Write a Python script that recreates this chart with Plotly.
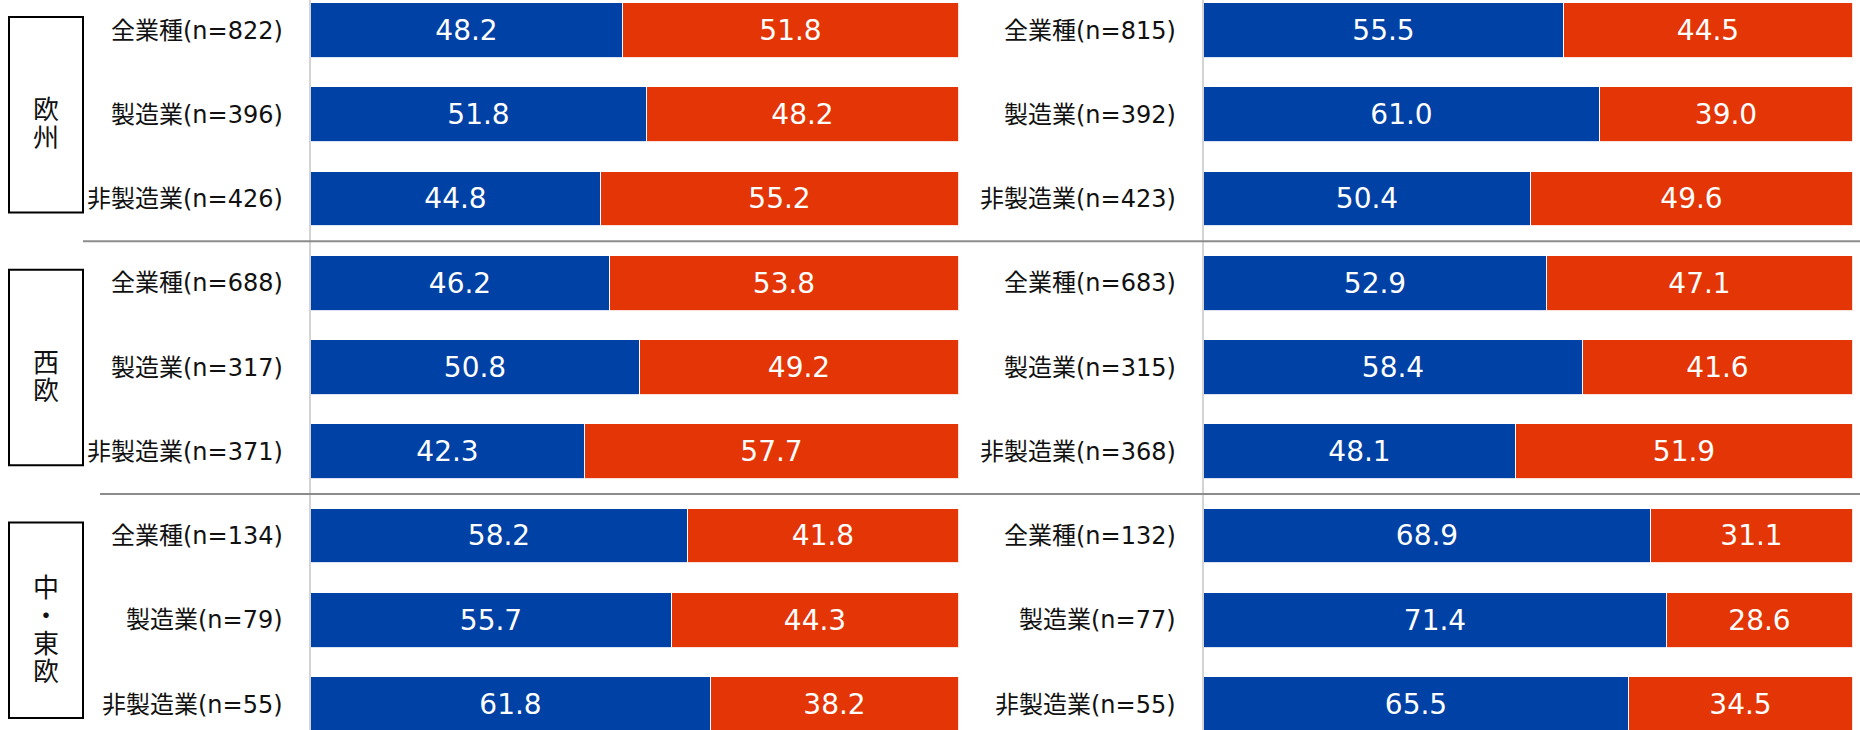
import plotly.graph_objects as go

# ---- data -------------------------------------------------------------
regions = ["欧州", "西欧", "中・東欧"]
industries = ["全業種", "製造業", "非製造業"]

n_left = [822, 396, 426, 688, 317, 371, 134, 79, 55]
n_right = [815, 392, 423, 683, 315, 368, 132, 77, 55]

left_blue = [48.2, 51.8, 44.8, 46.2, 50.8, 42.3, 58.2, 55.7, 61.8]
left_red = [51.8, 48.2, 55.2, 53.8, 49.2, 57.7, 41.8, 44.3, 38.2]
right_blue = [55.5, 61.0, 50.4, 52.9, 58.4, 48.1, 68.9, 71.4, 65.5]
right_red = [44.5, 39.0, 49.6, 47.1, 41.6, 51.9, 31.1, 28.6, 34.5]

# ---- styling ------------------------------------------------------------
BLUE = "#0041A5"
RED = "#E33505"
LATIN_CJK = "DejaVu Sans, Noto Sans CJK JP, sans-serif"
CJK = "Noto Sans CJK JP, sans-serif"
W, H = 1860, 730

rows = list(range(len(n_left)))
labels_left = [f"{industries[i % 3]}(n={n})" for i, n in enumerate(n_left)]
labels_right = [f"{industries[i % 3]}(n={n})" for i, n in enumerate(n_right)]

fig = go.Figure()


def add_pair(blue, red, xa, ya):
    for vals, col in ((blue, BLUE), (red, RED)):
        fig.add_trace(go.Bar(
            x=vals, y=rows, orientation="h", xaxis=xa, yaxis=ya,
            width=0.65,
            marker=dict(color=col, line=dict(color="rgba(255,255,255,0.85)", width=1)),
            texttemplate="%{x:.1f}", textposition="inside",
            insidetextanchor="middle", constraintext="none",
            textfont=dict(color="white", size=28, family=LATIN_CJK),
            hoverinfo="skip", showlegend=False,
        ))


add_pair(left_blue, left_red, "x", "y")
add_pair(right_blue, right_red, "x2", "y2")

# row 0 centred at 30.5px, rows 84.25px apart
pitch = 84.25
y_top = -30.5 / pitch
y_bot = (H - 30.5) / pitch

yax = dict(range=[y_bot, y_top], showticklabels=False, showgrid=False,
           zeroline=False, showline=True, linecolor="#d4d4d4", linewidth=2,
           domain=[0, 1])
xax = dict(range=[0, 100], showticklabels=False, showgrid=False,
           zeroline=False, showline=False)

fig.update_layout(
    width=W, height=H,
    margin=dict(l=0, r=0, t=0, b=0),
    paper_bgcolor="white", plot_bgcolor="white",
    barmode="stack", bargap=0,
    xaxis=dict(domain=[311 / W, 959 / W], anchor="y", **xax),
    xaxis2=dict(domain=[1204 / W, 1853 / W], anchor="y2", **xax),
    yaxis=dict(anchor="x", **yax),
    yaxis2=dict(anchor="x2", **yax),
)

# category labels to the left of each panel
for xd, labs in (("x domain", labels_left), ("x2 domain", labels_right)):
    yref = "y" if xd == "x domain" else "y2"
    for i, t in enumerate(labs):
        fig.add_annotation(
            x=0, xref=xd, y=i, yref=yref, text=t, showarrow=False,
            xanchor="right", yanchor="middle", xshift=-26,
            font=dict(size=24, color="#111111", family=LATIN_CJK),
        )

# group separators
for yv, x0 in ((2.5, 83 / W), (5.5, 100 / W)):
    fig.add_shape(type="line", xref="paper", yref="y", x0=x0, x1=1,
                  y0=yv, y1=yv, line=dict(color="#8c8c8c", width=2))

# region boxes with vertical text, one character per line (28px apart)
for g, name in enumerate(regions):
    centre = g * 3 + 1
    fig.add_shape(type="rect", xref="paper", yref="y",
                  x0=9 / W, x1=83 / W, y0=centre - 1.16, y1=centre + 1.16,
                  line=dict(color="black", width=2), fillcolor="white")
    chars = list(name)
    k = len(chars)
    for j, ch in enumerate(chars):
        fig.add_annotation(
            x=46 / W, xref="paper", y=centre, yref="y",
            text=ch, showarrow=False, xanchor="center", yanchor="middle",
            yshift=-(7 + (j - (k - 1) / 2) * 28), borderpad=0,
            font=dict(size=26, color="#111111", family=CJK),
        )

fig.write_html("out.html")
